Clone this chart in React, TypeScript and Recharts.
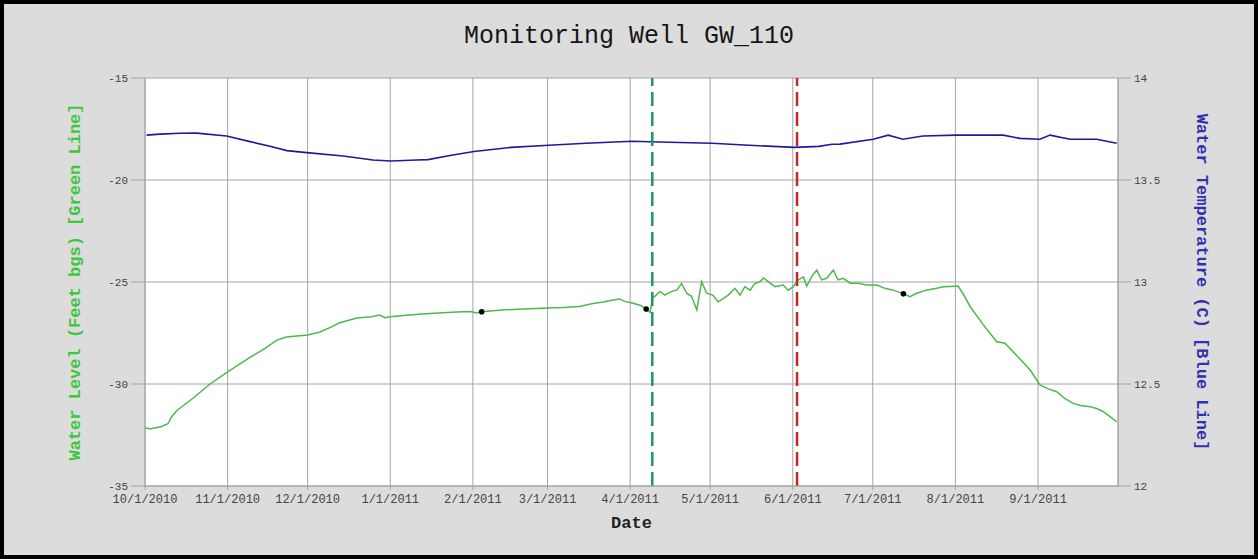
import { CartesianGrid, ComposedChart, Line, ReferenceLine, Scatter, XAxis, YAxis } from "recharts";

// x values are days since 10/1/2010
const monthTicks = [0, 31, 61, 92, 123, 151, 182, 212, 243, 273, 304, 335];
const monthLabels = [
  "10/1/2010",
  "11/1/2010",
  "12/1/2010",
  "1/1/2011",
  "2/1/2011",
  "3/1/2011",
  "4/1/2011",
  "5/1/2011",
  "6/1/2011",
  "7/1/2011",
  "8/1/2011",
  "9/1/2011",
];
const levelTicks = [-35, -30, -25, -20, -15];
const tempTicks = [12, 12.5, 13, 13.5, 14];

const levelDays = [
  0, 2, 4, 6, 8.6, 10, 12, 18, 24.4, 31, 39.4, 45, 49.5, 53, 57, 61, 65.6, 70, 73, 79.5, 85, 88, 90, 92, 98, 104,
  110, 117, 122, 124.5, 126.3, 134, 142, 151, 157, 163, 168, 172, 175, 178, 180, 182.7, 186, 188, 189.5, 190.4,
  191.3, 193.2, 195, 197.6, 199.5, 201.3, 203.2, 205, 207, 208.8, 210.7, 213, 215, 217, 218.8, 221.3, 223.2, 225,
  227, 228.8, 230.7, 232, 233.8, 236.3, 239.4, 241.3, 243.2, 245, 247, 248.2, 250.5, 252, 253.8, 255.7, 258.2, 260,
  262, 264.5, 267.6, 270.7, 274.5, 277.6, 280.7, 284.5, 287, 289.5, 293, 297, 299.5, 302, 305, 307, 309.5, 314.5,
  319.5, 322.6, 327, 332, 335.7, 339, 342, 345, 348.2, 351, 354.5, 357, 359.5, 362, 364.5,
];
const levelValues = [
  -32.15, -32.2, -32.15, -32.1, -31.95, -31.6, -31.3, -30.7, -30.0, -29.4, -28.7, -28.25, -27.85, -27.7, -27.65,
  -27.6, -27.45, -27.2, -27.0, -26.76, -26.7, -26.62, -26.75, -26.7, -26.63, -26.57, -26.52, -26.47, -26.45, -26.52,
  -26.46, -26.37, -26.32, -26.27, -26.25, -26.2, -26.05, -25.98, -25.9, -25.83, -25.95, -26.03, -26.15, -26.32,
  -26.5, -25.75, -25.7, -25.46, -25.64, -25.46, -25.4, -25.07, -25.55, -25.7, -26.37, -24.98, -25.55, -25.64,
  -25.97, -25.8, -25.64, -25.31, -25.64, -25.23, -25.4, -25.07, -24.98, -24.8, -24.98, -25.23, -25.15, -25.4,
  -25.23, -24.9, -24.75, -25.2, -24.65, -24.42, -24.9, -24.82, -24.42, -24.9, -24.82, -25.06, -25.06, -25.15,
  -25.15, -25.31, -25.4, -25.58, -25.72, -25.55, -25.4, -25.31, -25.23, -25.22, -25.2, -25.6, -26.2, -27.1,
  -27.93, -28.0, -28.6, -29.3, -30.05, -30.25, -30.38, -30.7, -30.95, -31.05, -31.11, -31.2, -31.36, -31.6, -31.85,
];

const tempDays = [
  0.6, 5.6, 13.1, 19.4, 30.6, 39.4, 46.9, 53.2, 60.7, 74.3, 85.5, 92.3, 101.9, 106.2, 114.4, 123.4, 137.3, 151.5,
  165.4, 182.7, 196.6, 212.7, 226.6, 243.8, 252.8, 257.7, 260.7, 273.2, 278.8, 284.3, 291.8, 304.5, 321.9, 328.2,
  335.7, 339.5, 347, 357, 364.5,
];
const tempValues = [
  13.72, 13.725, 13.729, 13.73, 13.716, 13.688, 13.665, 13.644, 13.634, 13.618, 13.598, 13.593, 13.598, 13.6, 13.62,
  13.64, 13.66, 13.67, 13.68, 13.69, 13.685, 13.68, 13.67, 13.66, 13.665, 13.675, 13.676, 13.7, 13.72, 13.7,
  13.716, 13.72, 13.72, 13.704, 13.7, 13.72, 13.7, 13.7, 13.68,
];

const pointDays = [126.3, 188, 284.5];
const pointValues = [-26.46, -26.32, -25.58];

const markerGreenDay = 190.3;
const markerRedDay = 244.6;

const levelData = levelDays.map((day, i) => ({ day, level: levelValues[i] }));
const tempData = tempDays.map((day, i) => ({ day, temp: tempValues[i] }));
const pointData = pointDays.map((day, i) => ({ day, level: pointValues[i] }));

const mono = "'Liberation Mono', 'DejaVu Sans Mono', monospace";
const gridColor = "#a4a4a4";
const tickStyle = { fill: "#444", fontSize: 11, fontFamily: mono };

function LeftLabel({ viewBox }: any) {
  const cx = viewBox.x + 71;
  const cy = viewBox.y + viewBox.height / 2;
  return (
    <text
      x={cx}
      y={cy}
      transform={`rotate(-90 ${cx} ${cy})`}
      textAnchor="middle"
      dominantBaseline="central"
      fill="#3fc63f"
      fontFamily={mono}
      fontWeight={700}
      fontSize={17}
    >
      Water Level (Feet bgs) [Green Line]
    </text>
  );
}

function RightLabel({ viewBox }: any) {
  const cx = viewBox.x + 83;
  const cy = viewBox.y + viewBox.height / 2;
  return (
    <text
      x={cx}
      y={cy}
      transform={`rotate(90 ${cx} ${cy})`}
      textAnchor="middle"
      dominantBaseline="central"
      fill="#3030b0"
      fontFamily={mono}
      fontWeight={700}
      fontSize={17}
    >
      Water Temperature (C) [Blue Line]
    </text>
  );
}

function BottomLabel({ viewBox }: any) {
  return (
    <text
      x={viewBox.x + viewBox.width / 2}
      y={viewBox.y + 37}
      textAnchor="middle"
      dominantBaseline="central"
      fill="#222"
      fontFamily={mono}
      fontWeight={700}
      fontSize={17}
    >
      Date
    </text>
  );
}

function App() {
  return (
    <div
      style={{
        position: "absolute",
        left: 0,
        top: 0,
        width: 1258,
        height: 559,
        boxSizing: "border-box",
        border: "4px solid #000",
        background: "#dcdcdc",
      }}
    >
      <div
        style={{
          position: "absolute",
          left: 0,
          top: 20,
          width: 1250,
          textAlign: "center",
          fontFamily: mono,
          fontSize: 25,
          lineHeight: "26px",
          color: "#151515",
        }}
      >
        Monitoring Well GW_110
      </div>
      <ComposedChart
        width={1250}
        height={551}
        margin={{ top: 74, right: 0, bottom: 0, left: 0 }}
        style={{ position: "absolute", left: 0, top: 0 }}
      >
        <CartesianGrid yAxisId="level" stroke={gridColor} fill="#ffffff" />
        <XAxis
          dataKey="day"
          type="number"
          domain={[0, 365]}
          ticks={monthTicks}
          tickFormatter={(v: number) => monthLabels[monthTicks.indexOf(v)]}
          interval={0}
          height={69}
          tick={{ ...tickStyle, fontSize: 12 }}
          tickSize={4}
          tickMargin={4}
          stroke={gridColor}
          label={{ content: BottomLabel }}
        />
        <YAxis
          yAxisId="level"
          domain={[-35, -15]}
          ticks={levelTicks}
          width={141}
          tick={tickStyle}
          tickSize={14}
          tickMargin={3}
          stroke={gridColor}
          label={{ content: LeftLabel }}
        />
        <YAxis
          yAxisId="temp"
          orientation="right"
          domain={[12, 14]}
          ticks={tempTicks}
          width={136}
          tick={tickStyle}
          tickSize={13}
          tickMargin={3}
          stroke={gridColor}
          label={{ content: RightLabel }}
        />
        <Line
          data={tempData}
          dataKey="temp"
          yAxisId="temp"
          stroke="#1c1c96"
          strokeWidth={1.6}
          dot={false}
          isAnimationActive={false}
        />
        <Line
          data={levelData}
          dataKey="level"
          yAxisId="level"
          stroke="#4db84d"
          strokeWidth={1.5}
          dot={false}
          isAnimationActive={false}
        />
        <ReferenceLine
          x={markerGreenDay}
          yAxisId="level"
          stroke="#1e9a5c"
          strokeWidth={2.5}
          strokeDasharray="14 6"
        />
        <ReferenceLine
          x={markerRedDay}
          yAxisId="level"
          stroke="#c62828"
          strokeWidth={2.5}
          strokeDasharray="14 6"
        />
        <Scatter
          data={pointData}
          dataKey="level"
          yAxisId="level"
          fill="#000"
          shape={(p: any) => <circle cx={p.cx} cy={p.cy} r={2.8} fill="#000" />}
          isAnimationActive={false}
        />
      </ComposedChart>
    </div>
  );
}

export default App;
